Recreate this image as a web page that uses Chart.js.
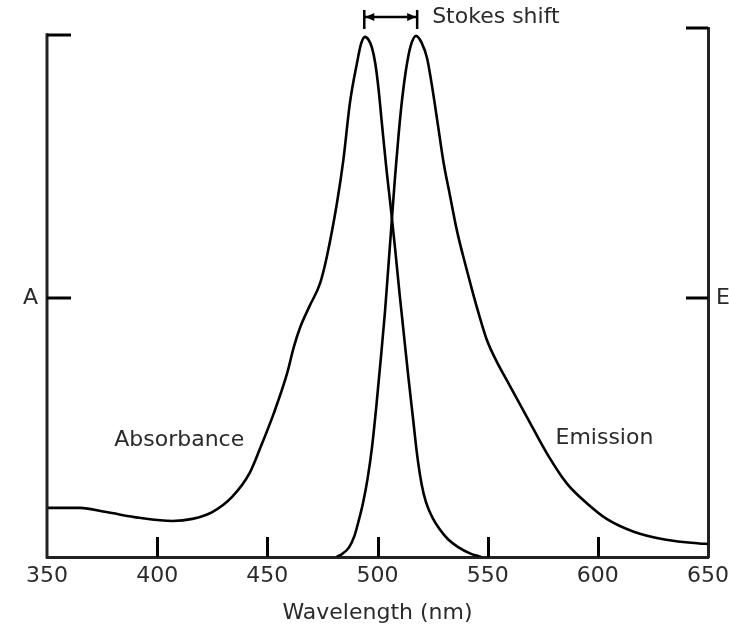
<!DOCTYPE html>
<html>
<head>
<meta charset="utf-8">
<script src="https://cdn.jsdelivr.net/npm/chart.js@4/dist/chart.umd.min.js"></script>
<style>
  html, body { margin: 0; padding: 0; background: #fff; }
  #wrap { width: 729px; height: 628px; }
</style>
</head>
<body>
<div id="wrap"><canvas id="spectrum" width="729" height="628"></canvas></div>
<script>
// wavelength axis (nm)
const xTicks = [350, 400, 450, 500, 550, 600, 650];

// absorbance curve, normalised to its peak
const absWavelength = [350, 365, 377, 392, 407, 416, 425, 434, 442, 447, 453, 459, 462, 465, 469, 474, 477, 481.6, 484.5, 487.5, 490.7, 492.5, 494.3, 496, 497.5, 499, 500.5, 502, 504, 506, 508, 510, 512, 514, 516, 518, 520, 522, 525, 528.4, 532, 536.6, 542, 547];
const absValue = [0.094, 0.094, 0.086, 0.075, 0.069, 0.073, 0.086, 0.115, 0.161, 0.211, 0.276, 0.352, 0.402, 0.441, 0.479, 0.525, 0.575, 0.678, 0.760, 0.870, 0.946, 0.982, 0.996, 0.990, 0.975, 0.945, 0.895, 0.830, 0.745, 0.670, 0.590, 0.505, 0.425, 0.345, 0.270, 0.195, 0.140, 0.105, 0.075, 0.052, 0.034, 0.019, 0.007, 0];

// emission curve, normalised to its peak
const emWavelength = [481.5, 484, 487, 489.5, 491.5, 493.5, 495.5, 497.5, 499.5, 501.5, 503.4, 505, 506.5, 508, 509.5, 511, 513, 515, 517.5, 520, 522.5, 525, 527.5, 530, 533, 536, 540.5, 543, 546, 549.6, 554, 558.6, 567.7, 576.8, 585.9, 595, 604, 616, 631, 646, 650];
const emValue = [0, 0.006, 0.018, 0.040, 0.070, 0.105, 0.150, 0.210, 0.290, 0.380, 0.470, 0.560, 0.645, 0.730, 0.805, 0.870, 0.935, 0.978, 0.998, 0.985, 0.955, 0.895, 0.825, 0.755, 0.690, 0.626, 0.550, 0.510, 0.465, 0.416, 0.375, 0.339, 0.269, 0.199, 0.141, 0.103, 0.073, 0.049, 0.033, 0.026, 0.025];

const leftAxisLabel = "A";
const rightAxisLabel = "E";
const midTick = 0.496;
const leftTicks = [1.0, midTick];
const rightTicks = [1.013, midTick];
const absPeak = 494;
const emPeak = 518;
const curveLabels = [
  { text: "Absorbance", nm: 410, value: 0.224 },
  { text: "Emission", nm: 603, value: 0.228 },
];

const FONT = "'DejaVu Sans', sans-serif";
const TEXT = "#2a2a2a";
const AXIS = "#222";

// axis decorations: left spine, inward ticks
const axisDecor = {
  id: "axisDecor",
  afterDraw(chart) {
    const { ctx, chartArea } = chart;
    const { x, y, y2 } = chart.scales;
    ctx.save();
    ctx.lineWidth = 3;
    ctx.strokeStyle = AXIS;
    ctx.beginPath();
    ctx.moveTo(chartArea.left, y.getPixelForValue(1.0) - 1.5);
    ctx.lineTo(chartArea.left, chartArea.bottom + 1.5);
    ctx.stroke();

    ctx.strokeStyle = "#000";
    ctx.beginPath();
    xTicks.slice(1, -1).forEach((v) => {
      const px = Math.round(x.getPixelForValue(v)) + 0.5;
      ctx.moveTo(px, chartArea.bottom);
      ctx.lineTo(px, chartArea.bottom - 20);
    });
    leftTicks.forEach((v) => {
      const py = Math.round(y.getPixelForValue(v));
      ctx.moveTo(chartArea.left, py);
      ctx.lineTo(chartArea.left + 24, py);
    });
    rightTicks.forEach((v) => {
      const py = Math.round(y2.getPixelForValue(v));
      ctx.moveTo(chartArea.right, py);
      ctx.lineTo(chartArea.right - 22, py);
    });
    ctx.stroke();
    ctx.restore();
  },
};

// the bracket between the two peaks and the curve names
const annotations = {
  id: "annotations",
  afterDraw(chart) {
    const { ctx } = chart;
    const { x, y } = chart.scales;
    const x1 = x.getPixelForValue(absPeak);
    const x2 = x.getPixelForValue(emPeak);
    const top = 10, bot = 29, mid = 17;
    ctx.save();
    ctx.strokeStyle = "#000";
    ctx.fillStyle = "#000";
    ctx.lineWidth = 2.5;
    ctx.beginPath();
    ctx.moveTo(x1, top); ctx.lineTo(x1, bot);
    ctx.moveTo(x2, top); ctx.lineTo(x2, bot);
    ctx.moveTo(x1, mid); ctx.lineTo(x2, mid);
    ctx.stroke();
    ctx.beginPath();
    ctx.moveTo(x1 + 1, mid); ctx.lineTo(x1 + 10, mid - 4); ctx.lineTo(x1 + 10, mid + 4); ctx.closePath();
    ctx.moveTo(x2 - 1, mid); ctx.lineTo(x2 - 10, mid - 4); ctx.lineTo(x2 - 10, mid + 4); ctx.closePath();
    ctx.fill();

    ctx.fillStyle = TEXT;
    ctx.font = "22px " + FONT;
    ctx.textBaseline = "middle";
    ctx.textAlign = "left";
    ctx.fillText("Stokes shift", x2 + 15, mid);
    ctx.textAlign = "center";
    curveLabels.forEach((l) => {
      ctx.fillText(l.text, x.getPixelForValue(l.nm), y.getPixelForValue(l.value));
    });
    ctx.restore();
  },
};

const toPoints = (xs, ys) => xs.map((v, i) => ({ x: v, y: ys[i] }));

new Chart(document.getElementById("spectrum").getContext("2d"), {
  type: "line",
  data: {
    datasets: [
      {
        label: "Absorbance",
        data: toPoints(absWavelength, absValue),
        borderColor: "#000",
        borderWidth: 2.6,
        pointRadius: 0,
        cubicInterpolationMode: "monotone",
        fill: false,
        yAxisID: "y",
      },
      {
        label: "Emission",
        data: toPoints(emWavelength, emValue),
        borderColor: "#000",
        borderWidth: 2.6,
        pointRadius: 0,
        cubicInterpolationMode: "monotone",
        fill: false,
        yAxisID: "y2",
      },
    ],
  },
  options: {
    responsive: false,
    animation: false,
    layout: { padding: { top: 28, left: 0, right: 0, bottom: 0 } },
    plugins: { legend: { display: false }, tooltip: { enabled: false } },
    scales: {
      x: {
        type: "linear",
        min: 350,
        max: 650,
        afterBuildTicks: (s) => { s.ticks = xTicks.map((v) => ({ value: v })); },
        afterFit: (s) => { s.height = 71; s.paddingLeft = 0; s.paddingRight = 0; },
        grid: { display: true, drawOnChartArea: false, drawTicks: false },
        border: { display: true, color: AXIS, width: 3 },
        ticks: { padding: 6, color: TEXT, font: { family: FONT, size: 22 }, maxRotation: 0, autoSkip: false },
        title: { display: true, text: "Wavelength (nm)", color: TEXT, font: { family: FONT, size: 22 }, padding: { top: 0, bottom: 2 } },
      },
      y: {
        position: "left",
        min: 0,
        max: 1.013,
        afterBuildTicks: (s) => { s.ticks = [{ value: midTick }]; },
        afterFit: (s) => { s.width = 47; s.paddingTop = 0; s.paddingBottom = 0; },
        grid: { display: true, drawOnChartArea: false, drawTicks: false },
        border: { display: false },
        ticks: { callback: () => leftAxisLabel, padding: 9, color: TEXT, font: { family: FONT, size: 22 } },
      },
      y2: {
        position: "right",
        min: 0,
        max: 1.013,
        afterBuildTicks: (s) => { s.ticks = [{ value: midTick }]; },
        afterFit: (s) => { s.width = 21; s.paddingTop = 0; s.paddingBottom = 0; },
        grid: { display: true, drawOnChartArea: false, drawTicks: false },
        border: { display: true, color: AXIS, width: 3 },
        ticks: { callback: () => rightAxisLabel, padding: 8, color: TEXT, font: { family: FONT, size: 22 } },
      },
    },
  },
  plugins: [axisDecor, annotations],
});
</script>
</body>
</html>
